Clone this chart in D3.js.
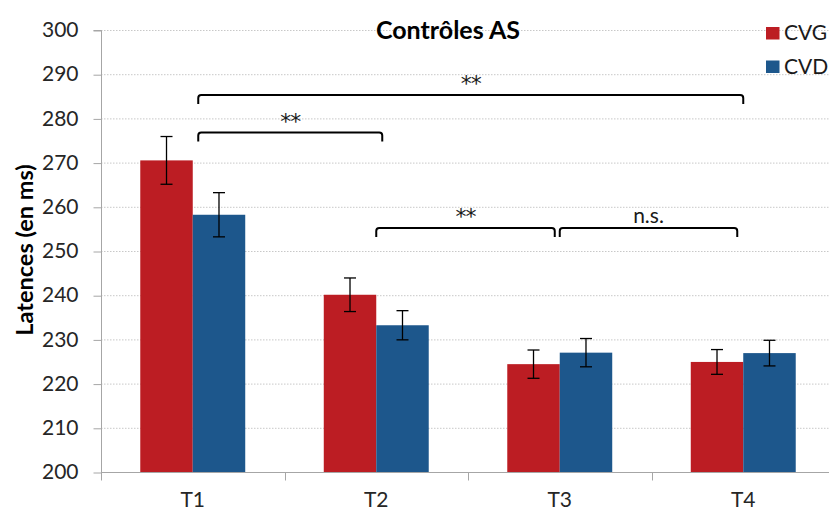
<!DOCTYPE html>
<html>
<head>
<meta charset="utf-8">
<script src="https://cdn.jsdelivr.net/npm/d3@7/dist/d3.min.js"></script>
<style>
  html, body { margin: 0; padding: 0; background: #fff; }
  svg { display: block; font-family: Lato, "Open Sans", sans-serif; }
</style>
</head>
<body>
<svg id="chart" width="829" height="511"></svg>
<script>
// ---- Data ----
const categories = ["T1", "T2", "T3", "T4"];
const seriesNames = ["CVG", "CVD"];
const cvgValues = [270.5, 240.1, 224.4, 224.9];
const cvgErrors = [5.4, 3.8, 3.2, 2.8];
const cvdValues = [258.2, 233.2, 227.0, 226.9];
const cvdErrors = [5.0, 3.3, 3.2, 2.9];
const yTicks = [200, 210, 220, 230, 240, 250, 260, 270, 280, 290, 300];
const brackets = [
  { from: "T1", to: "T4", level: 285.3, label: "**" },
  { from: "T1", to: "T2", level: 276.8, label: "**" },
  { from: "T2", to: "T3", level: 255.2, label: "**" },
  { from: "T3", to: "T4", level: 255.2, label: "n.s." }
];
const title = "Contrôles AS";
const yTitle = "Latences (en ms)";
const colors = { CVG: "#BC1D23", CVD: "#1D578C" };

// ---- Layout ----
const svg = d3.select("#chart");
const mLeft = 101, mRight = 835, mTop = 30, mBottom = 472;

const x0 = d3.scaleBand().domain(categories).range([mLeft, mRight])
  .paddingInner(0.428).paddingOuter(0.214);
const x1 = d3.scaleBand().domain(seriesNames).range([0, x0.bandwidth()]);
const y = d3.scaleLinear().domain([200, 300]).range([mBottom, mTop]);

const data = categories.map((c, i) => ({
  cat: c,
  vals: [
    { s: "CVG", v: cvgValues[i], e: cvgErrors[i] },
    { s: "CVD", v: cvdValues[i], e: cvdErrors[i] }
  ]
}));

// gridlines
svg.append("g").selectAll("line").data(yTicks.filter(t => t > 200)).join("line")
  .attr("x1", mLeft).attr("x2", mRight)
  .attr("y1", d => y(d) + 0.5).attr("y2", d => y(d) + 0.5)
  .attr("stroke", "#c8c8c8").attr("stroke-width", 1)
  .attr("stroke-dasharray", "1.5,1.5");

// y axis
const yAxis = d3.axisLeft(y).tickValues(yTicks).tickSize(8).tickPadding(15);
const gy = svg.append("g").attr("transform", `translate(${mLeft + 0.5},0)`).call(yAxis);
gy.select(".domain").attr("stroke", "#a6a6a6").attr("d", `M-8,${mTop + 0.5}H0V${mBottom + 0.5}`);
gy.selectAll(".tick line").attr("stroke", "#a6a6a6").attr("transform", "translate(0,0.5)");
gy.selectAll(".tick text").attr("font-size", 21).attr("fill", "#262626")
  .attr("font-family", "Lato, sans-serif");

// x axis
const gx = svg.append("g").attr("transform", `translate(0,${mBottom + 0.5})`);
gx.append("line").attr("x1", mLeft).attr("x2", mRight).attr("stroke", "#a6a6a6");
const step = x0.step();
const boundaries = categories.map((c, i) => mLeft + i * step);
boundaries.push(mRight);
gx.selectAll("line.tk").data(boundaries).join("line").attr("class", "tk")
  .attr("x1", d => Math.round(d) + 0.5).attr("x2", d => Math.round(d) + 0.5)
  .attr("y1", 0).attr("y2", 8).attr("stroke", "#a6a6a6");
gx.selectAll("text").data(categories).join("text")
  .attr("x", d => x0(d) + x0.bandwidth() / 2)
  .attr("y", 34)
  .attr("text-anchor", "middle").attr("font-size", 21).attr("fill", "#262626")
  .text(d => d);

// bars
const groups = svg.append("g").selectAll("g").data(data).join("g")
  .attr("transform", d => `translate(${x0(d.cat)},0)`);
groups.selectAll("rect").data(d => d.vals).join("rect")
  .attr("x", d => x1(d.s)).attr("width", x1.bandwidth())
  .attr("y", d => y(d.v)).attr("height", d => y(200) - y(d.v))
  .attr("fill", d => colors[d.s]);

// error bars
const eb = groups.selectAll("g.err").data(d => d.vals).join("g").attr("class", "err")
  .attr("transform", d => `translate(${x1(d.s) + x1.bandwidth() / 2},0)`);
eb.append("line").attr("x1", 0).attr("x2", 0)
  .attr("y1", d => y(d.v + d.e)).attr("y2", d => y(d.v - d.e))
  .attr("stroke", "#000").attr("stroke-width", 1.3);
eb.append("line").attr("x1", -6).attr("x2", 6)
  .attr("y1", d => y(d.v + d.e)).attr("y2", d => y(d.v + d.e))
  .attr("stroke", "#000").attr("stroke-width", 1.3);
eb.append("line").attr("x1", -6).attr("x2", 6)
  .attr("y1", d => y(d.v - d.e)).attr("y2", d => y(d.v - d.e))
  .attr("stroke", "#000").attr("stroke-width", 1.3);

// brackets
const cx = c => x0(c) + x0.bandwidth() / 2;
const bOffsets = [[5.5, 0], [5.5, 6], [0, -5], [0, -6]];
const legLen = 9, rad = 3;
const bg = svg.append("g");
brackets.forEach((b, i) => {
  const xa = cx(b.from) + bOffsets[i][0];
  const xb = cx(b.to) + bOffsets[i][1];
  const yy = y(b.level);
  const p = d3.path();
  p.moveTo(xa, yy + legLen);
  p.lineTo(xa, yy + rad);
  p.quadraticCurveTo(xa, yy, xa + rad, yy);
  p.lineTo(xb - rad, yy);
  p.quadraticCurveTo(xb, yy, xb, yy + rad);
  p.lineTo(xb, yy + legLen);
  bg.append("path").attr("d", p.toString()).attr("fill", "none")
    .attr("stroke", "#000").attr("stroke-width", 2);
  const isStar = b.label.indexOf("*") >= 0;
  bg.append("text").attr("x", (xa + xb) / 2).attr("y", isStar ? yy - 4 : yy - 5)
    .attr("text-anchor", "middle")
    .attr("font-size", isStar ? 22 : 21)
    .attr("font-family", isStar ? "'DejaVu Sans', sans-serif" : "Lato, sans-serif")
    .attr("letter-spacing", isStar ? -1 : 0)
    .attr("fill", "#1a1a1a")
    .text(b.label);
});

// title
svg.append("text").attr("x", 448).attr("y", 39).attr("text-anchor", "middle")
  .attr("font-size", 25).attr("font-weight", "bold").attr("fill", "#000").text(title);

// y title
svg.append("text").attr("transform", `translate(33,250) rotate(-90)`)
  .attr("text-anchor", "middle").attr("font-size", 23.5).attr("font-weight", "bold")
  .attr("fill", "#000").text(yTitle);

// legend
const lg = svg.append("g").selectAll("g").data(seriesNames).join("g")
  .attr("transform", (d, i) => `translate(766,${27 + i * 33.5})`);
lg.append("rect").attr("width", 13.5).attr("height", 12.5).attr("fill", d => colors[d]);
lg.append("text").attr("x", 18).attr("y", 13).attr("font-size", 21)
  .attr("fill", "#1a1a1a").text(d => d);
</script>
</body>
</html>
